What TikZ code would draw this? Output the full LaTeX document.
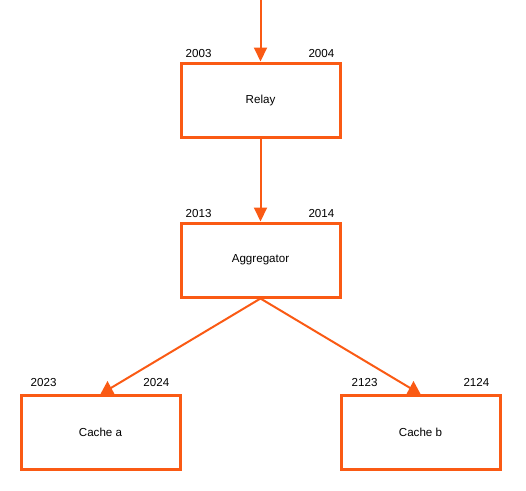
\documentclass[tikz,border=0pt]{standalone}
\usepackage{fontspec}
\setmainfont{Liberation Sans}
\usepackage{xcolor}
\usetikzlibrary{arrows.meta}
\definecolor{wire}{RGB}{250,90,20}

\begin{document}
\begin{tikzpicture}[x=1pt,y=-1pt,font=\fontsize{11.6}{14}\selectfont,
	box/.style={draw=wire,line width=3pt,minimum width=159pt,minimum height=74pt,inner sep=0pt},
	port/.style={inner sep=0pt},
	conn/.style={draw=wire,line width=2pt}]
	\useasboundingbox (0,0) rectangle (526,490);
	\node[box] (relay) at (260.5,100) {Relay};
	\node[box] (agg) at (260.5,260) {Aggregator};
	\node[box] (cachea) at (100.5,432.5) {Cache a};
	\node[box] (cacheb) at (420.5,432.5) {Cache b};
	% port numbers
	\node[port,anchor=base west] (relayl) at ([xshift=6pt,yshift=4pt]relay.north west) {2003};
	\node[port,anchor=base east] (relayr) at ([xshift=-7pt,yshift=4pt]relay.north east) {2004};
	\node[port,anchor=base west] (aggl) at ([xshift=6pt,yshift=4pt]agg.north west) {2013};
	\node[port,anchor=base east] (aggr) at ([xshift=-7pt,yshift=4pt]agg.north east) {2014};
	\node[port,anchor=base west] (cacheal) at ([xshift=11pt,yshift=8pt]cachea.north west) {2023};
	\node[port,anchor=base east] (cachear) at ([xshift=-12pt,yshift=8pt]cachea.north east) {2024};
	\node[port,anchor=base west] (cachebl) at ([xshift=12pt,yshift=8pt]cacheb.north west) {2123};
	\node[port,anchor=base east] (cachebr) at ([xshift=-12pt,yshift=8pt]cacheb.north east) {2124};
	% connectors
	\coordinate (top) at (260.5,0);
	\coordinate (ina) at ([xshift=7pt]cachea.north);
	\coordinate (inb) at ([xshift=-7pt]cacheb.north);
	\draw[conn,-{Triangle[width=13pt,length=14pt]}] (top) -- (relay.north);
	\draw[conn,-{Triangle[width=13pt,length=14pt]}] (relay.south) -- (agg.north);
	\draw[conn] (agg.south) -- ([yshift=4pt]ina);
	\draw[conn] (agg.south) -- ([yshift=4pt]inb);
	\fill[wire] ([xshift=-7pt]ina) -- ([yshift=13pt]ina) -- ([xshift=7pt]ina) -- cycle;
	\fill[wire] ([xshift=-7pt]inb) -- ([yshift=13pt]inb) -- ([xshift=7pt]inb) -- cycle;
\end{tikzpicture}
\end{document}
